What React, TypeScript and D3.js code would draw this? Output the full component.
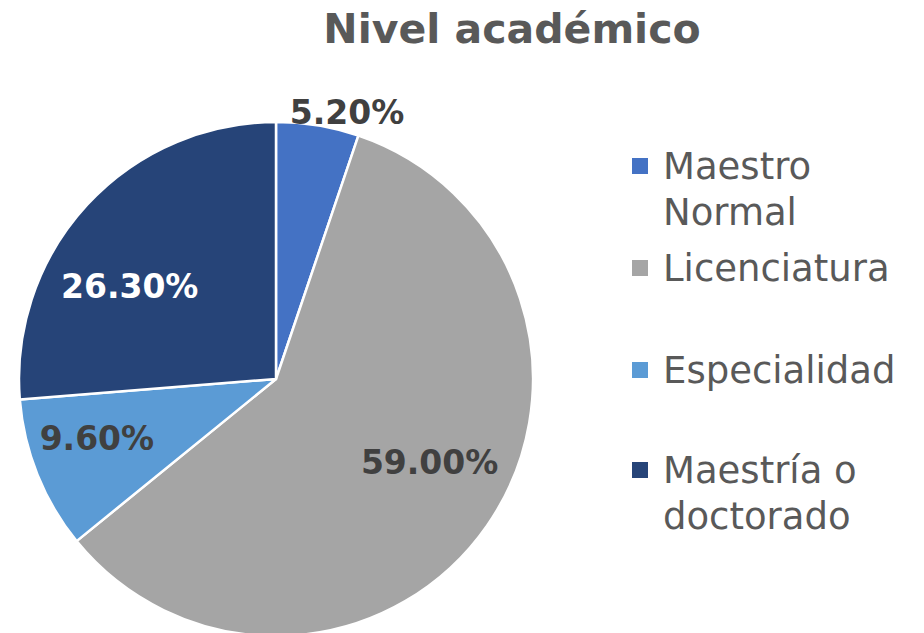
import React from "react";
import * as d3 from "d3";

const categories = ["Maestro Normal", "Licenciatura", "Especialidad", "Maestría o doctorado"];
const values = [5.2, 59.0, 9.6, 26.3];
const labels = ["5.20%", "59.00%", "9.60%", "26.30%"];
const colors = ["#4472C4", "#A5A5A5", "#5B9BD5", "#264478"];
const labelColors = ["#404040", "#404040", "#404040", "#FFFFFF"];
const legendLines = [["Maestro", "Normal"], ["Licenciatura"], ["Especialidad"], ["Maestría o", "doctorado"]];

const W = 924;
const H = 633;
const cx = 276;
const cy = 379;
const R = 257;
// label nudges relative to arc centroid at 0.6R (layout only)
const labelNudge: [number, number][] = [
  [46, -114],
  [27, -4],
  [-36, 2],
  [-33, 12],
];
const legendX = 632;
const legendTop = [158, 260, 362, 462];
const lineGap = 46;

export default function App() {
  const pie = d3.pie<number>().sort(null).value((d) => d).startAngle(0).endAngle(2 * Math.PI);
  const arcs = pie(values);
  const arc = d3.arc<d3.PieArcDatum<number>>().innerRadius(0).outerRadius(R);
  const labelArc = d3.arc<d3.PieArcDatum<number>>().innerRadius(R * 0.6).outerRadius(R * 0.6);
  const font = "'DejaVu Sans', sans-serif";

  return (
    <svg width={W} height={H} style={{ position: "absolute", left: 0, top: 0 }} fontFamily={font}>
      <rect width={W} height={H} fill="#FFFFFF" />
      <text x={512} y={43} textAnchor="middle" fontSize={41} fontWeight="bold" fill="#595959">
        Nivel académico
      </text>
      <g transform={`translate(${cx},${cy})`}>
        {arcs.map((a, i) => (
          <path key={i} d={arc(a) || ""} fill={colors[i]} stroke="#FFFFFF" strokeWidth={2.5} strokeLinejoin="round" />
        ))}
        {arcs.map((a, i) => {
          const [x, y] = labelArc.centroid(a);
          return (
            <text
              key={"l" + i}
              x={x + labelNudge[i][0]}
              y={y + labelNudge[i][1]}
              textAnchor="middle"
              dominantBaseline="central"
              fontSize={33}
              fontWeight="bold"
              fill={labelColors[i]}
            >
              {labels[i]}
            </text>
          );
        })}
      </g>
      {categories.map((c, i) => (
        <g key={c}>
          <rect x={legendX} y={legendTop[i]} width={16} height={16} fill={colors[i]} />
          {legendLines[i].map((ln, j) => (
            <text key={j} x={663} y={legendTop[i] + 21 + j * lineGap} fontSize={37} fill="#595959">
              {ln}
            </text>
          ))}
        </g>
      ))}
    </svg>
  );
}
